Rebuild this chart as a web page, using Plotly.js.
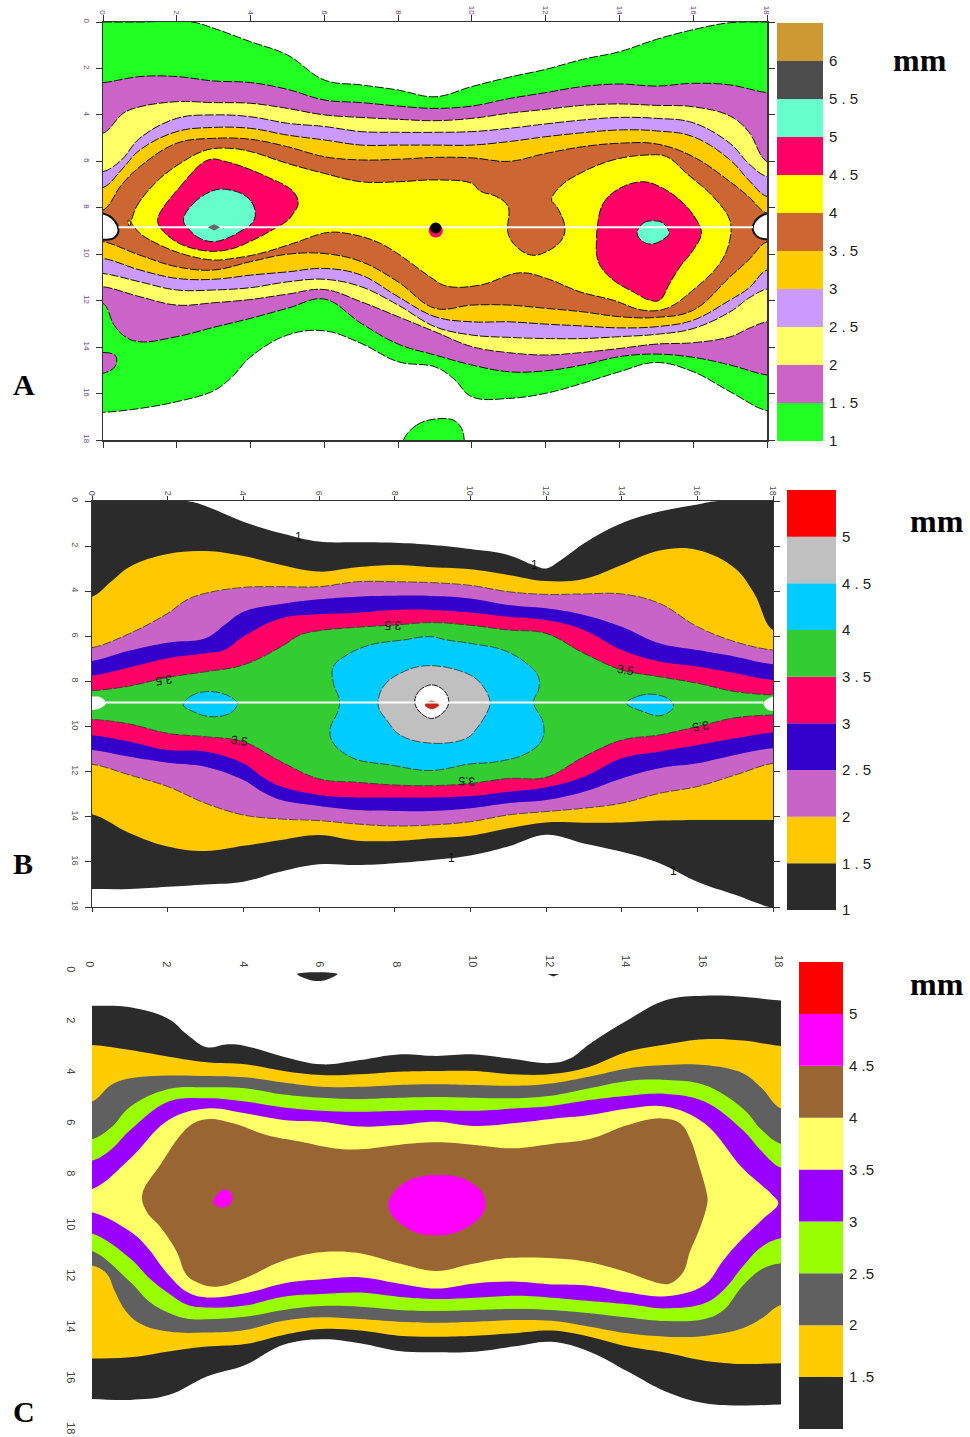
<!DOCTYPE html>
<html>
<head>
<meta charset="utf-8">
<script src="https://cdn.plot.ly/plotly-3.0.1.min.js"></script>
<style>html,body{margin:0;padding:0;background:#fff}#chart{width:970px;height:1437px}</style>
</head>
<body>
<div id="chart"></div>
<script>
// Shared column positions (mm along the x scale)
const xInt   = [0,1,2,3,4,5,6,7,8,9,10,11,12,13,14,15,16,17,18];
const xIntH  = [0,1,2,3,4,5,6,7,8,9,10,11,12,13,14,15,16,17,17.5,18];
const xWide  = [0,0.5,1,2,3,4,5,6,7,8,9,10,11,12,13,14,15,16,17,17.5,18];
const tickVals = [0,2,4,6,8,10,12,14,16,18];

// ---------- Panel A: contour boundaries (depth y per column) ----------
const a10TopX = [0,1,2.4,3,4,5,6,7,8,9,10,11,12,13,14,15,16,17,18];
const a10TopY = [0,0,0,.27,.85,1.42,2.5,2.71,2.93,3.22,2.78,2.38,2.04,1.61,1.28,.75,.33,.03,0];
const a10BotX = [0,1,2,3,3.5,4,5,6,7,8,9,9.5,10,11,12,13,14,15,16,17,18];
const a10BotY = [16.81,16.64,16.35,15.88,15.28,14.42,13.48,13.3,13.84,14.63,14.85,15.35,16.14,16.21,15.99,15.56,15.06,14.66,15.06,15.92,16.74];
const a15TopY = [2.61,2.35,2.35,2.54,2.61,2.9,3.36,3.47,3.62,3.72,3.62,3.3,3.04,2.78,2.67,2.76,2.64,2.71,3.04];
const a15BotX = [0,.3,.6,1,2,3,4,5,6,7,8,9,10,11,12,13,14,15,16,17,18];
const a15BotY = [12.12,13.05,13.55,13.77,13.55,13.15,12.76,12.33,11.93,12.98,13.87,14.34,14.77,15.06,15.02,14.77,14.41,14.3,14.44,14.77,15.2];
const a20TopX = [0,.55,1,2,3,4,5,6,7,8,9,10,11,12,13,14,15,16,17,17.5,18];
const a20TopY = [4.79,3.93,3.65,3.43,3.47,3.5,3.72,4.0,4.11,4.19,4.25,4.15,3.93,3.76,3.59,3.53,3.59,3.65,4.05,4.72,6.01];
const a20BotY = [11.4,11.83,12.19,12.09,11.95,11.72,11.52,12.05,12.69,13.34,13.98,14.24,14.34,14.23,14.06,13.87,13.81,13.56,13.2,12.91];
const a25TopY = [6.45,5.94,5.0,4.15,4.0,4.08,4.36,4.5,4.72,4.75,4.75,4.72,4.58,4.39,4.22,4.11,4.15,4.34,5.23,6.09,6.66];
const a25BotY = [10.83,11.19,11.54,11.54,11.44,11.19,11.08,11.4,12.19,13.12,13.48,13.58,13.63,13.63,13.55,13.45,13.2,12.48,11.9,11.5];
const a30TopY = [7.13,6.37,5.51,4.72,4.54,4.58,4.87,5.08,5.3,5.3,5.3,5.3,5.15,4.94,4.77,4.65,4.69,4.94,5.94,6.8,7.52];
const a30BotY = [10.18,10.68,11.04,11.08,10.9,10.76,10.61,10.9,11.83,12.69,12.91,12.91,13.01,13.09,13.17,13.12,12.84,11.97,11.47,10.68];
const a35TopY = [8.1,7.02,6.23,5.22,5.01,5.05,5.37,5.8,5.94,5.91,5.83,5.85,6.0,5.66,5.37,5.22,5.25,5.8,6.88,7.52,8.24];
const a35BotY = [9.46,10.04,10.54,10.68,10.32,10.0,9.97,10.32,11.19,12.33,12.19,12.19,12.33,12.48,12.69,12.72,12.41,10.97,10.25,9.46];
const a40X = [.71,.91,1.45,2.09,2.81,3.44,4,5,6,7,8,9,10,10.22,10.67,10.98,10.98,11.21,11.62,12.02,12.43,12.52,12.3,12.16,12.39,12.93,13.83,14.73,15.28,15.82,16.54,16.99,16.99,16.72,15.99,15.28,14.64,13.83,12.93,12.02,11.3,10.22,9.31,8.86,8.05,7.42,6.6,6.06,5.16,4.25,3.53,3,2.27,1.55,1,.69,.71];
const a40Y = [8.81,7.95,6.88,6.09,5.51,5.44,5.58,6.09,6.52,6.88,6.88,6.8,6.95,7.28,7.52,7.95,9.1,9.68,10.04,9.89,9.39,8.82,7.95,7.67,7.09,6.52,5.94,5.73,5.8,6.52,7.52,8.53,9.39,10.4,11.55,12.33,12.41,11.98,11.62,11.04,10.8,11.33,11.37,10.97,10.04,9.46,9.1,9.07,9.53,9.97,10.18,10.25,10.04,9.61,9.1,8.53,8.81];
const a45LeftX = [1.5,2.09,2.85,3.35,4.44,5.16,5.29,5.16,5.0,4.7,4.07,3.35,2.63,1.91,1.5,1.5];
const a45LeftY = [8.38,7.09,5.94,6.02,6.66,7.31,7.81,8.24,8.55,8.85,9.39,9.82,9.82,9.39,8.7,8.38];
const a45RightX = [13.4,13.56,14.01,14.64,15.09,15.64,16.09,16.22,16,15.64,15.36,15.09,14.82,14.37,13.83,13.47,13.38,13.38,13.4];
const a45RightY = [8.82,7.81,7.16,6.88,7.09,7.67,8.53,9.1,9.82,10.54,11.26,11.98,11.98,11.62,11.11,10.47,9.97,9.39,8.82];
const a50LeftX = [2.18,2.45,2.99,3.35,3.89,4.12,4.07,3.71,3.35,2.99,2.63,2.31,2.18];
const a50LeftY = [8.53,7.81,7.26,7.21,7.52,8.1,8.6,9.03,9.32,9.46,9.32,8.89,8.53];
const a50RightX = [14.48,14.64,14.91,15.19,15.35,15.28,14.91,14.64,14.48];
const a50RightY = [9.1,8.67,8.56,8.67,9.1,9.25,9.56,9.46,9.1];
const aBlobX = [0,.32,.37,.28,0];
const aBlobY = [14.23,14.34,14.63,14.92,15.13];
const aIslandX = [8.16,8.5,8.95,9.49,9.72,9.79,9.79,8.16,8.16];
const aIslandY = [17.96,17.36,17.11,17.14,17.5,17.96,18.4,18.4,17.96];
const aHoleLeftX = [-.3,0,.25,.42,.3,0,-.3];
const aHoleLeftY = [8.24,8.24,8.45,8.96,9.3,9.38,9.38];
const aHoleRightX = [18.3,18,17.67,17.62,17.76,18,18.3];
const aHoleRightY = [8.24,8.24,8.6,8.96,9.27,9.36,9.36];
const aLineX = [.42,17.62];
const aLineY = [8.84,8.84];

// ---------- Panel B ----------
const b10TopX = [0,2.5,3,4,5,6,7,8,9,10,11,11.67,12,12.46,13,14,15,16,16.5,18];
const b10TopY = [0,0,.22,.92,1.43,1.8,1.83,1.85,1.95,2.13,2.39,2.84,2.99,2.54,1.88,.99,.47,.15,.01,0];
const b10BotY = [17.2,17.2,17.1,17.0,16.88,16.43,16.11,16.14,16.06,15.92,15.72,15.32,14.8,15.18,15.55,16.06,16.88,17.46,18.03];
const b15TopY = [4.24,3.58,2.91,2.35,2.22,2.44,2.84,3.13,2.94,2.84,2.94,3.03,3.28,3.55,3.46,2.84,2.2,2.17,2.99,4.09,5.72];
const b15BotY = [13.89,14.73,15.32,15.52,15.29,15.03,14.81,15.06,15.07,14.95,14.84,14.51,14.25,14.26,14.25,14.17,14.14,14.14,14.14];
const b20TopX = [0,1,2,2.5,3,4,5,6,7,8,9,10,11,12,13,14,15,16,17,18];
const b20TopY = [6.5,5.87,4.98,4.39,4.09,3.83,3.8,3.8,3.58,3.58,3.62,3.74,4.02,4.14,4.12,4.12,4.54,5.57,6.24,6.61];
const b20BotY = [11.67,12.15,12.66,13.4,13.92,14.1,14.17,14.32,14.41,14.36,14.22,13.92,13.77,13.62,13.4,12.96,12.66,12.15,11.63];
const b25TopX = [0,1,2,3,3.5,4,5,6,7,8,9,10,11,12,13,14,15,16,17,18];
const b25TopY = [7.09,6.63,6.28,6.09,5.5,4.91,4.57,4.36,4.24,4.2,4.21,4.32,4.61,4.76,5.05,5.57,6.31,6.61,6.9,7.24];
const b25BotX = [0,1,2,3,4,4.5,5,6,7,8,9,10,11,12,13,14,15,16,17,18];
const b25BotY = [11.04,11.34,11.6,11.78,12.37,12.89,13.26,13.52,13.7,13.74,13.74,13.62,13.4,13.26,12.89,12.3,11.85,11.63,11.26,10.96];
const b30TopY = [7.74,7.37,6.97,6.75,6.61,6.01,5.2,5.02,4.95,4.83,4.83,4.94,5.13,5.28,5.72,6.61,7.12,7.34,7.64,7.94];
const b30BotY = [10.38,10.67,11.04,11.11,11.63,12.22,12.66,13.03,13.14,13.14,13.14,13.08,12.89,12.69,12.22,11.41,11.11,10.82,10.52,10.26];
const b35TopX = [0,1,2,3,4,5,5.5,6,7,8,9,10,11,12,13,14,15,16,17,18];
const b35TopY = [8.41,8.2,7.82,7.57,7.27,6.46,5.94,5.75,5.6,5.5,5.39,5.51,5.72,5.87,6.75,7.49,7.79,8.08,8.45,8.6];
const b35BotY = [9.68,9.89,10.3,10.45,10.67,11.56,12.32,12.47,12.59,12.62,12.52,12.3,12.25,11.34,10.6,10.37,10.0,9.61,9.49];
const b40X = [6.38,6.38,6.73,7.35,8.23,8.93,9.37,9.99,10.87,11.49,11.8,11.8,11.67,11.93,11.89,11.49,10.7,9.99,8.93,7.88,6.91,6.38,6.29,6.51,6.54,6.38];
const b40Y = [8.08,7.34,6.83,6.38,6.16,6.01,6.16,6.31,6.61,7.2,7.79,8.38,8.9,9.86,10.6,11.19,11.56,11.66,11.95,11.7,11.41,10.74,10.15,9.27,8.82,8.08];
const b40LeftX = [2.41,2.59,3.03,3.56,3.82,3.84,3.65,3.12,2.68,2.41];
const b40LeftY = [9.04,8.67,8.45,8.6,8.9,9.04,9.41,9.56,9.34,9.04];
const b40RightX = [14.13,14.4,14.84,15.28,15.37,15.32,15.01,14.57,14.13];
const b40RightY = [8.97,8.67,8.57,8.82,9.12,9.27,9.52,9.34,8.97];
const b45X = [7.57,7.7,8.23,8.93,9.99,10.34,10.52,10.47,10.17,9.9,8.98,8.14,7.79,7.57];
const b45Y = [9.1,8.23,7.57,7.3,7.71,8.23,8.9,9.27,10.08,10.52,10.74,10.37,9.71,9.1];
const b50X = [8.53,8.66,8.98,9.3,9.43,9.3,8.98,8.66,8.53];
const b50Y = [8.9,8.4,8.15,8.4,8.9,9.35,9.64,9.35,8.9];
const b55X = [8.8,8.98,9.17,8.98,8.8];
const b55Y = [9.05,8.85,9.05,9.22,9.05];
const bHoleLeftX = [-.3,0,.25,.37,.2,0,-.3];
const bHoleLeftY = [8.67,8.67,8.72,8.97,9.2,9.27,9.27];
const bHoleRightX = [18.3,18,17.75,17.88,18,18.3];
const bHoleRightY = [8.67,8.67,8.97,9.27,9.3,9.3];
const bLineX = [.35,17.75];
const bLineY = [8.93,8.93];
const bLabelText = ['3.5','3.5','3.5','3.5','3.5','3.5','1','1','1','1'];
const bLabelX = [7.96,1.89,14.09,3.91,9.9,16.07,5.47,11.7,9.5,15.37];
const bLabelY = [5.47,7.94,7.49,10.62,12.44,9.98,1.61,2.84,15.84,16.39];
const bLabelAngle = [180,172,10,10,182,172,0,0,0,0];

// ---------- Panel C ----------
const c10TopX = [0,1,2,2.5,3,3.5,4,5,6,7,8,9,10,11,12,12.5,13,14,15,16,17,18];
const c10TopY = [1.36,1.42,1.88,2.51,2.99,2.88,2.94,3.36,3.66,3.49,3.27,3.33,3.27,3.45,3.61,3.42,2.86,1.92,1.14,.97,1.01,1.16];
const c10BotY = [16.78,16.82,16.63,15.9,15.45,14.66,14.44,14.6,14.9,14.95,14.93,14.73,14.54,14.93,15.71,16.5,16.95,17.04,17.0];
const c15TopY = [2.9,3.1,3.36,3.58,3.66,3.92,4.08,4.05,3.95,3.92,3.92,4.05,4.04,3.75,3.16,2.88,2.68,2.73,2.94];
const c15BotY = [15.2,15.15,14.92,14.73,14.63,14.27,14.04,14.1,14.3,14.34,14.3,14.21,14.1,14.34,14.73,14.97,15.28,15.41,15.38];
const c20TopY = [5.12,4.47,4.21,4.1,4.12,4.17,4.37,4.54,4.54,4.47,4.44,4.47,4.5,4.41,4.14,3.82,3.69,3.69,4.01,4.6,5.39];
const c20BotX = [0,.38,.6,.86,1.25,2,3,4,5,6,7,8,9,10,11,12,13,14,15,16,17,17.5,18];
const c20BotY = [11.55,11.86,12.57,13.29,13.82,14.14,14.18,14.08,13.72,13.58,13.65,13.75,13.79,13.75,13.69,13.72,13.95,14.21,14.34,14.31,14.01,13.62,13.1];
const c25BotX = [0,1,1.5,2,2.5,3,4,5,6,7,8,9,10,11,12,13,14,15,16,16.5,17,17.5,18];
const c25TopY = [6.6,6.14,5.32,4.63,4.56,4.6,4.84,4.97,5.02,4.97,4.94,4.97,4.99,4.89,4.6,4.31,4.27,4.47,5.39,6.24,6.78];
const c25BotY = [10.98,12.2,12.97,13.4,13.64,13.66,13.56,13.29,13.14,13.17,13.29,13.33,13.29,13.25,13.29,13.42,13.59,13.73,13.65,13.29,12.34,11.69,11.46];
const c30TopY = [7.44,7.0,6.24,5.12,4.99,5.12,5.35,5.48,5.52,5.48,5.45,5.48,5.39,5.29,5.06,4.89,4.82,5.12,6.24,7.08,7.71];
const c30BotY = [10.29,11.27,12.05,12.64,13.1,13.2,13.12,12.77,12.67,12.61,12.77,12.86,12.81,12.74,12.81,12.94,13.07,13.23,13.03,12.51,11.59,10.81,10.48];
const c35TopX = [0,1,2,3,4,5,6,7,8,9,10,11,12,13,14,15,16,17,17.77,17.93];
const c35TopY = [8.55,7.35,5.84,5.39,5.58,5.84,5.91,6.1,6.04,5.91,6.08,5.97,5.8,5.65,5.39,5.32,5.97,7.74,8.78,9.11];
const c35BotX = [0,1,1.43,2,2.5,3,4,5,6,7,8,9,10,11,12,13,14,15,16,16.5,17,17.5,17.93];
const c35BotY = [9.46,10.22,10.81,11.92,12.6,12.8,12.64,12.25,12.09,12.01,12.25,12.45,12.25,12.18,12.29,12.34,12.61,12.75,12.31,11.33,10.48,9.76,9.11];
const c40X = [1.31,1.78,2.39,2.73,3.08,3.69,4.56,5.43,6.3,7,8,9,10,11,12,13,14,14.88,15.36,15.62,15.88,16.06,16.08,15.88,15.62,15.45,15.1,14.84,13.79,12.92,11.62,10.75,9.88,9,8,7,6.3,5.61,4.82,4,3.26,2.82,2.47,2.21,1.78,1.43,1.31];
const c40Y = [8.78,7.61,6.3,5.91,5.8,5.97,6.43,6.69,6.95,6.99,6.82,6.72,6.82,6.95,6.78,6.59,6.04,5.78,5.97,6.56,7.74,8.72,9.05,10.09,11.01,11.79,12.25,12.25,11.73,11.4,11.24,11.27,11.5,11.76,11.46,11.07,11.0,11.11,11.46,12.05,12.38,12.25,11.92,11.0,10.03,9.44,8.78];
const c45X = [7.74,7.87,8.2,8.6,9.0,9.5,9.9,10.2,10.28,10.15,9.8,9.4,9.0,8.55,8.15,7.87,7.74];
const c45Y = [9.18,8.7,8.27,8.05,8.0,8.05,8.3,8.7,9.18,9.65,10.05,10.3,10.36,10.3,10.0,9.65,9.18];
const c45SmallX = [3.47,3.65,3.66,3.55,3.38,3.2,3.17,3.3,3.47];
const c45SmallY = [8.56,8.75,9.0,9.22,9.27,9.17,9.02,8.72,8.56];
const cBlob1X = [5.36,6.41,6.2,5.96,5.65,5.36];
const cBlob1Y = [.12,.12,.3,.39,.33,.12];
const cBlob2X = [11.9,12.21,12.05,11.9];
const cBlob2Y = [.12,.12,.22,.12];

// ---------- Colour scale legends ----------
const legendALevels = [1,1.5,2,2.5,3,3.5,4,4.5,5,5.5,6];
const legendALabels = ['1','1 . 5','2','2 . 5','3','3 . 5','4','4 . 5','5','5 . 5','6'];
const legendAColors = ['#22ff22','#cc63c8','#ffff66','#cc99ff','#ffcc00','#cc6633','#ffff00','#ff0066','#66ffcc','#4d4d4d','#cc9933'];
const legendBLevels = [1,1.5,2,2.5,3,3.5,4,4.5,5];
const legendBLabels = ['1','1 . 5','2','2 . 5','3','3 . 5','4','4 . 5','5'];
const legendBColors = ['#2b2b2b','#ffc800','#c864c8','#3300cc','#ff0066','#33cc33','#00ccff','#c0c0c0','#ff0000'];
const legendCLevels = [1,1.5,2,2.5,3,3.5,4,4.5,5];
const legendCLabels = ['1','1 .5','2','2 .5','3','3 .5','4','4 .5','5'];
const legendCColors = ['#2b2b2b','#ffcc00','#606060','#99ff00','#9900ff','#ffff66','#996633','#ff00ff','#ff0000'];

// ---------- Builders ----------
const W = 970, H = 1437;
const A = legendAColors, B = legendBColors, C = legendCColors;
const dashedA = {color:'#111', width:1, dash:'9px,2px'};
const dashedB = {color:'#333', width:0.8, dash:'9px,2px'};

function poly(x, y, color, xa, ya, line, linear){
  const l = Object.assign({width:0, color:color}, line||{});
  l.shape = linear ? 'linear' : 'spline';
  l.smoothing = 1.1;
  return {type:'scatter', mode:'lines', x:x, y:y, xaxis:xa, yaxis:ya, fill:'toself', fillcolor:color,
          line:l, hoverinfo:'skip', showlegend:false};
}
function band(tx, ty, bx, by, color, xa, ya, line){
  const x = tx.slice(), y = ty.slice();
  if (tx[0] <= 0){ x.unshift(-0.6); y.unshift(ty[0]); }
  if (tx[tx.length-1] >= 18){ x.push(18.6); y.push(ty[ty.length-1]); }
  const rx = bx.slice(), ry = by.slice();
  if (bx[0] <= 0){ rx.unshift(-0.6); ry.unshift(by[0]); }
  if (bx[bx.length-1] >= 18){ rx.push(18.6); ry.push(by[by.length-1]); }
  rx.reverse(); ry.reverse();
  const last = tx[tx.length-1] < 18 ? 1 : 0;
  const ox = x.concat(rx.slice(last)), oy = y.concat(ry.slice(last));
  ox.push(ox[0]); oy.push(oy[0]);
  return poly(ox, oy, color, xa, ya, line);
}
function legend(levels, colors, xa, ya){
  return {type:'bar', x:levels.map(()=>0.5), y:levels.map(()=>0.5), base:levels, width:1,
          marker:{color:colors, line:{width:0}}, xaxis:xa, yaxis:ya, hoverinfo:'skip', showlegend:false};
}
function seg(x, y, xa, ya, width){
  return {type:'scatter', mode:'lines', x:x, y:y, xaxis:xa, yaxis:ya, line:{color:'#fff', width:width},
          hoverinfo:'skip', showlegend:false};
}
function dot(x, y, color, size, symbol, xa, ya){
  return {type:'scatter', mode:'markers', x:[x], y:[y], xaxis:xa, yaxis:ya,
          marker:{color:color, size:size, symbol:symbol||'circle', line:{width:0}}, hoverinfo:'skip', showlegend:false};
}

const traces = [
  // Panel A
  band(a10TopX,a10TopY,a10BotX,a10BotY,A[0],'x','y',dashedA),
  poly(aBlobX,aBlobY,A[1],'x','y',dashedA),
  poly(aIslandX,aIslandY,A[0],'x','y',dashedA),
  band(xInt,a15TopY,a15BotX,a15BotY,A[1],'x','y',dashedA),
  band(a20TopX,a20TopY,xIntH,a20BotY,A[2],'x','y',dashedA),
  band(xWide,a25TopY,xIntH,a25BotY,A[3],'x','y',dashedA),
  band(xWide,a30TopY,xIntH,a30BotY,A[4],'x','y',dashedA),
  band(xWide,a35TopY,xIntH,a35BotY,A[5],'x','y',dashedA),
  poly(a40X,a40Y,A[6],'x','y',dashedA),
  poly(a45LeftX,a45LeftY,A[7],'x','y',dashedA),
  poly(a45RightX,a45RightY,A[7],'x','y',dashedA),
  poly(a50LeftX,a50LeftY,A[8],'x','y',dashedA),
  poly(a50RightX,a50RightY,A[8],'x','y',dashedA),
  poly(aHoleLeftX,aHoleLeftY,'#ffffff','x','y',{color:'#111',width:2}),
  poly(aHoleRightX,aHoleRightY,'#ffffff','x','y',{color:'#111',width:2}),
  seg(aLineX,aLineY,'x','y',2),
  dot(3.01,8.84,'#666',9,'diamond-wide','x','y'),
  dot(9.02,8.98,A[7],14,'circle','x','y'),
  dot(9.02,8.87,'#000',11,'circle','x','y'),
  legend(legendALevels,legendAColors,'x2','y2'),

  // Panel B
  band(b10TopX,b10TopY,xInt,b10BotY,B[0],'x3','y3'),
  band(xWide,b15TopY,xInt,b15BotY,B[1],'x3','y3'),
  band(b20TopX,b20TopY,xInt,b20BotY,B[2],'x3','y3',dashedB),
  band(b25TopX,b25TopY,b25BotX,b25BotY,B[3],'x3','y3'),
  band(b25TopX,b30TopY,b25BotX,b30BotY,B[4],'x3','y3'),
  band(b35TopX,b35TopY,xInt,b35BotY,B[5],'x3','y3',dashedB),
  poly(b40X,b40Y,B[6],'x3','y3',dashedB),
  poly(b40LeftX,b40LeftY,B[6],'x3','y3',dashedB),
  poly(b40RightX,b40RightY,B[6],'x3','y3',dashedB),
  poly(b45X,b45Y,B[7],'x3','y3',dashedB),
  poly(b50X,b50Y,'#ffffff','x3','y3',{color:'#111',width:1,dash:'6px,1px'}),
  poly(b55X,b55Y,'#c8261a','x3','y3'),
  poly(bHoleLeftX,bHoleLeftY,'#ffffff','x3','y3'),
  poly(bHoleRightX,bHoleRightY,'#ffffff','x3','y3'),
  seg(bLineX,bLineY,'x3','y3',2),
  legend(legendBLevels,legendBColors,'x4','y4'),

  // Panel C
  poly(cBlob1X,cBlob1Y,C[0],'x5','y5'),
  poly(cBlob2X,cBlob2Y,C[0],'x5','y5',null,true),
  band(c10TopX,c10TopY,xInt,c10BotY,C[0],'x5','y5'),
  band(xInt,c15TopY,xInt,c15BotY,C[1],'x5','y5'),
  band(xWide,c20TopY,c20BotX,c20BotY,C[2],'x5','y5'),
  band(xWide,c25TopY,c25BotX,c25BotY,C[3],'x5','y5'),
  band(xWide,c30TopY,c25BotX,c30BotY,C[4],'x5','y5'),
  band(c35TopX,c35TopY,c35BotX,c35BotY,C[5],'x5','y5'),
  poly(c40X,c40Y,C[6],'x5','y5'),
  poly(c45X,c45Y,C[7],'x5','y5'),
  poly(c45SmallX,c45SmallY,C[7],'x5','y5'),
  legend(legendCLevels,legendCColors,'x6','y6')
];

function hDomain(l, r){ return [l/W, r/W]; }
function vDomain(t, b){ return [1-b/H, 1-t/H]; }

function mainX(l, r, yId, font, lineW, show, standoff, shift, tickLen){
  return {domain:hDomain(l,r), range:[0,18], side:'top', anchor:yId, tickmode:'array', tickvals:tickVals,
    ticks: show?'outside':'', ticklen:tickLen||6, tickwidth:1, tickcolor:'#333', showline:show, linecolor:'#333', linewidth:lineW,
    mirror: show?'allticks':false, showgrid:false, zeroline:false, tickangle:90, tickfont:font, layer:'above traces',
    ticklabelstandoff:standoff, ticklabelshift:shift||0};
}
function mainY(t, b, xId, font, lineW, show, standoff){
  return {domain:vDomain(t,b), range:[18,0], anchor:xId, tickmode:'array', tickvals:tickVals,
    ticks: show?'outside':'', ticklen:6, tickwidth:1, tickcolor:'#333', showline:show, linecolor:'#333', linewidth:lineW,
    mirror: show?'allticks':false, showgrid:false, zeroline:false, tickangle:90, tickfont:font, layer:'above traces', ticklabelstandoff:standoff};
}
function legX(l, r, yId){
  return {domain:hDomain(l,r), range:[0,1], anchor:yId, visible:false, fixedrange:true};
}
function legY(t, b, xId, top, vals, text, font){
  return {domain:vDomain(t,b), range:[1,top], anchor:xId, side:'right', tickmode:'array', tickvals:vals, ticktext:text,
    ticks:'', showline:false, showgrid:false, zeroline:false, tickfont:font, ticklabelstandoff:5};
}
const fontA = {family:'Liberation Sans', size:8, color:'#6f3fa0'};
const fontB = {family:'Liberation Sans', size:9, color:'#555'};
const fontC = {family:'Liberation Sans', size:11, color:'#444'};
const fontLeg = {family:'Liberation Sans', size:15, color:'#222'};

function letter(t, px, py, size){
  return {xref:'paper', yref:'paper', x:px/W, y:1-py/H, text:'<b>'+t+'</b>', showarrow:false, xanchor:'center', yanchor:'middle',
    font:{family:'Liberation Serif', size:size, color:'#000'}};
}
const bAnn = bLabelText.map((t,i)=>({xref:'x3', yref:'y3', x:bLabelX[i], y:bLabelY[i], text:t, showarrow:false,
    textangle:bLabelAngle[i], font:{family:'Liberation Sans', size:12, color:'#111'}}));

const layout = {
  width:W, height:H, margin:{l:0,r:0,t:0,b:0}, paper_bgcolor:'#fff', plot_bgcolor:'#fff', showlegend:false, barmode:'overlay',
  xaxis:  mainX(103,767,'y',fontA,1.5,true,-3),
  yaxis:  mainY(22,440,'x',fontA,1.5,true,2),
  xaxis2: legX(777,823,'y2'),
  yaxis2: legY(23,441,'x2',6.5,legendALevels,legendALabels,fontLeg),
  xaxis3: mainX(92,773,'y3',fontB,1.2,true,-3,0,4),
  yaxis3: mainY(501,907,'x3',fontB,1.2,true,2),
  xaxis4: legX(787,836,'y4'),
  yaxis4: legY(490,910,'x4',5.5,legendBLevels,legendBLabels,fontLeg),
  xaxis5: mainX(92,781,'y5',fontC,1,false,1,-2),
  yaxis5: mainY(971,1430,'x5',fontC,1,false,13),
  xaxis6: legX(799,843,'y6'),
  yaxis6: legY(962,1429,'x6',5.5,legendCLevels,legendCLabels,fontLeg),
  annotations:[
    letter('A',24,385,30), letter('mm',920,60,32),
    letter('B',23,863,30), letter('mm',937,521,32),
    letter('C',24,1411,30), letter('mm',937,984,32)
  ].concat(bAnn)
};
Plotly.newPlot('chart', traces, layout, {displayModeBar:false, staticPlot:true});
</script>
</body>
</html>
